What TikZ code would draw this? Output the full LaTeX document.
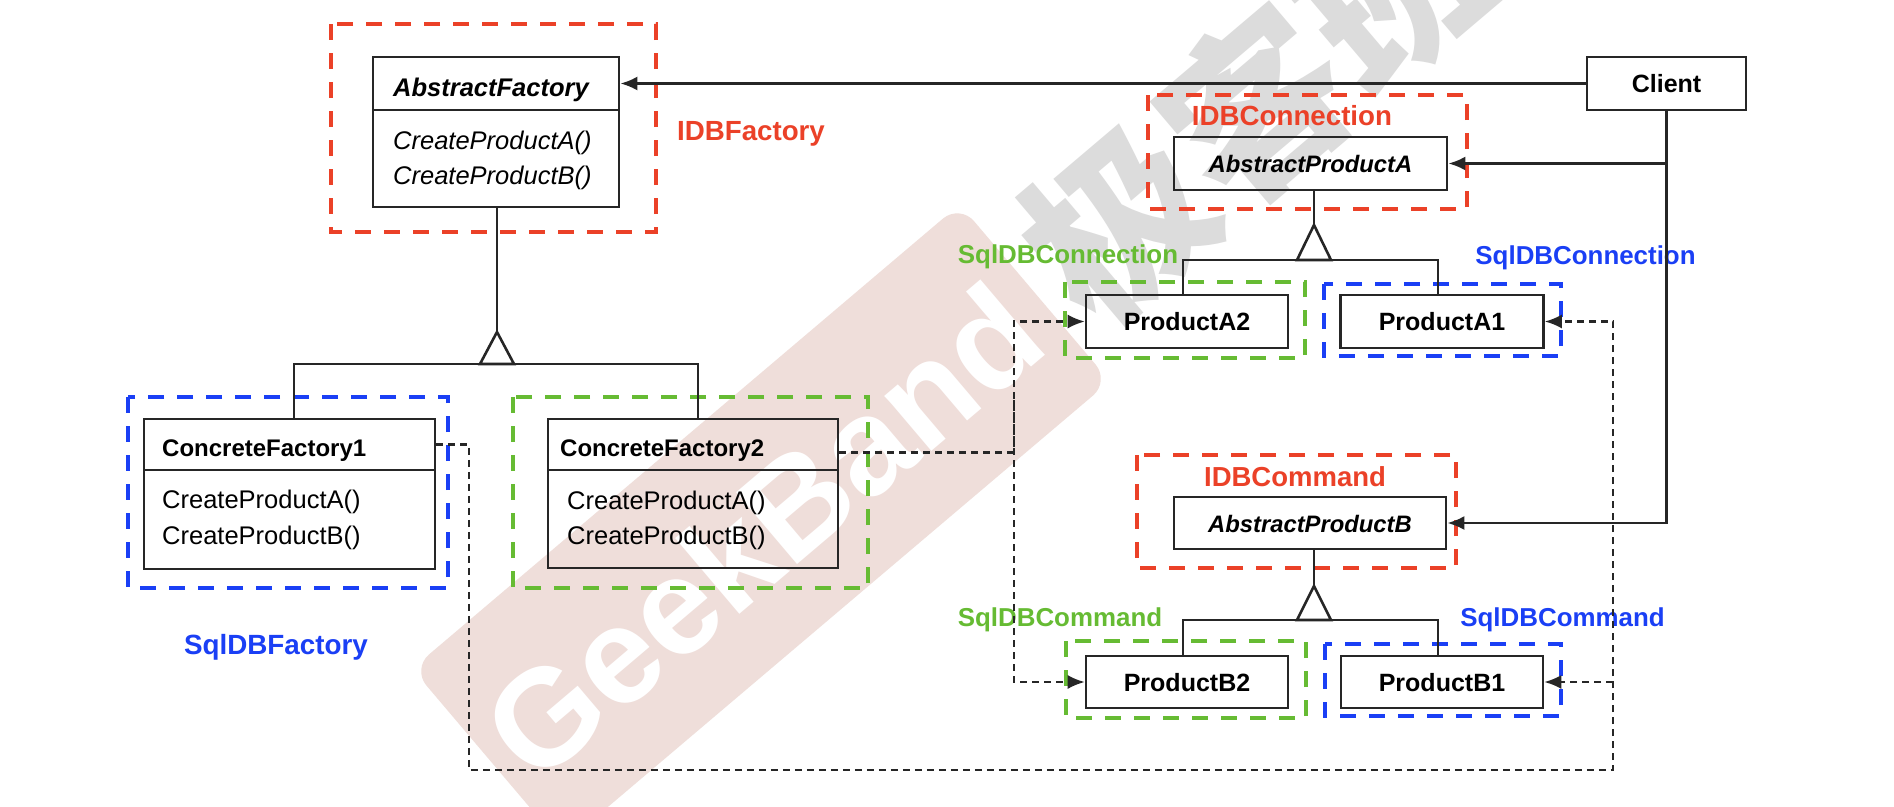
\documentclass[tikz,border=0pt]{standalone}
\usepackage{fontspec}
\setmainfont{Liberation Sans}
\newfontfamily\cjkwm{Noto Sans CJK SC}
\usetikzlibrary{arrows.meta}
\definecolor{dred}{HTML}{EB4128}
\definecolor{dblue}{HTML}{1A3FF5}
\definecolor{dgreen}{HTML}{66BB33}
\definecolor{wmpink}{HTML}{EFDEDA}
\definecolor{wmgray}{HTML}{DCDCDC}
\definecolor{ink}{HTML}{262626}
\begin{document}
\begin{tikzpicture}[x=1pt,y=-1pt,
  ln/.style={draw=ink, line width=2.6pt},
  box/.style={draw=ink, line width=2.6pt, inner sep=0pt, text height=18pt, text depth=0pt},
  bfont/.style={font=\fontsize{25}{30}\selectfont\bfseries},
  bifont/.style={font=\fontsize{23.8}{28}\selectfont\bfseries\itshape},
  txt/.style={inner sep=0pt, text height=18pt, text depth=0pt, anchor=west},
  mfont/.style={font=\fontsize{25.5}{30}\selectfont},
  mifont/.style={font=\fontsize{25.5}{30}\selectfont\itshape},
  grp/.style={line width=4.5pt, dash pattern=on 16pt off 13pt},
  lbl/.style={inner sep=0pt, text height=19.5pt, text depth=0pt},
  dep/.style={draw=ink, line width=2.2pt, dash pattern=on 7pt off 5pt},
  arr/.style={-{Latex[length=17pt,width=14pt]}},
  gen/.style={draw=ink, line width=2.6pt, fill=white, line join=miter},
]
\useasboundingbox (0,0) rectangle (1894,806);
\fill[white] (0,0) rectangle (1894,806);

% watermark
\begin{scope}
\clip (0,0) rectangle (1894,806);
\node[fill=wmpink, rotate=40.3, minimum width=718pt, minimum height=232pt, rounded corners=22pt, inner sep=0pt] (wmband) at (761,525) {};
\node[rotate=40.3, text=white, font=\fontsize{137}{140}\selectfont\bfseries, inner sep=0pt] (wmtext) at (762,531) {GeekBand};
\node[rotate=40.3, text=wmgray, font=\fontsize{180}{180}\selectfont\cjkwm\bfseries, inner sep=0pt] (wmcn) at (1255,105) {极客班};
\end{scope}

% coloured grouping boxes
\draw[grp, dred] (331,24) rectangle (656,232);
\draw[grp, dred] (1148,95) rectangle (1467,209);
\draw[grp, dred] (1137,455) rectangle (1456,568);
\draw[grp, dgreen] (1065,282) rectangle (1305,358);
\draw[grp, dblue] (1324,284) rectangle (1561,356);
\draw[grp, dgreen] (1066,641) rectangle (1306,718);
\draw[grp, dblue] (1325,644) rectangle (1561,716);
\draw[grp, dblue] (128,397) rectangle (448,588);
\draw[grp, dgreen] (513,397) rectangle (868,588);

% class boxes
\node[box, minimum width=246pt, minimum height=53pt] (afh) at (496,83.5) {};
\node[box, minimum width=246pt, minimum height=97pt] (afb) at (496,158.5) {};
\node[box, bfont, minimum width=159pt, minimum height=53pt] (client) at (1666.5,83.5) {Client};
\node[box, bifont, minimum width=273pt, minimum height=53pt] (apa) at (1310.5,163.5) {AbstractProductA};
\node[box, bifont, minimum width=272pt, minimum height=52pt] (apb) at (1310,523) {AbstractProductB};
\node[box, bfont, minimum width=202pt, minimum height=53pt] (pa2) at (1187,321.5) {ProductA2};
\node[box, bfont, minimum width=203pt, minimum height=53pt] (pa1) at (1442,321.5) {ProductA1};
\node[box, bfont, minimum width=202pt, minimum height=52pt] (pb2) at (1187,682) {ProductB2};
\node[box, bfont, minimum width=202pt, minimum height=52pt] (pb1) at (1442,682) {ProductB1};
\node[box, minimum width=291pt, minimum height=51pt] (cf1h) at (289.5,444.5) {};
\node[box, minimum width=291pt, minimum height=99pt] (cf1b) at (289.5,519.5) {};
\node[box, minimum width=290pt, minimum height=51pt] (cf2h) at (693,444.5) {};
\node[box, minimum width=290pt, minimum height=98pt] (cf2b) at (693,519) {};

% class texts
\node[txt, font=\fontsize{25.5}{30}\selectfont\bfseries\itshape] (aft) at (393,87) {AbstractFactory};
\node[txt, mifont] (afm1) at (393,140) {CreateProductA()};
\node[txt, mifont] (afm2) at (393,175) {CreateProductB()};
\node[txt, font=\fontsize{24}{28}\selectfont\bfseries] (cf1t) at (162,447) {ConcreteFactory1};
\node[txt, mfont] (cf1m1) at (162,499) {CreateProductA()};
\node[txt, mfont] (cf1m2) at (162,535.5) {CreateProductB()};
\node[txt, font=\fontsize{24}{28}\selectfont\bfseries] (cf2t) at (560,447) {ConcreteFactory2};
\node[txt, mfont] (cf2m1) at (567,500) {CreateProductA()};
\node[txt, mfont] (cf2m2) at (567,535.5) {CreateProductB()};

% labels
\node[lbl, text=dred, font=\fontsize{27.7}{30}\selectfont\bfseries] (lidbf) at (751,131) {IDBFactory};
\node[lbl, text=dred, font=\fontsize{27.7}{30}\selectfont\bfseries] (lidbc) at (1292,115.5) {IDBConnection};
\node[lbl, text=dgreen, font=\fontsize{25.9}{30}\selectfont\bfseries] (lsqc2) at (1068,254) {SqlDBConnection};
\node[lbl, text=dblue, font=\fontsize{25.9}{30}\selectfont\bfseries] (lsqc1) at (1585.5,254.5) {SqlDBConnection};
\node[lbl, text=dred, font=\fontsize{27.5}{30}\selectfont\bfseries] (lidbm) at (1295,477) {IDBCommand};
\node[lbl, text=dgreen, font=\fontsize{25.9}{30}\selectfont\bfseries] (lsqm2) at (1060,617) {SqlDBCommand};
\node[lbl, text=dblue, font=\fontsize{25.9}{30}\selectfont\bfseries] (lsqm1) at (1562.5,617) {SqlDBCommand};
\node[lbl, text=dblue, font=\fontsize{27.8}{30}\selectfont\bfseries] (lsqf) at (276,645) {SqlDBFactory};

% associations from Client
\draw[ln, arr] (client.west) -- (afh.east);
\draw[ln, arr] (client.south) |- (apb.east);
\draw[ln, arr] (client.south |- apa.east) -- (apa.east);

% generalisation: AbstractFactory
\coordinate (afT) at (497,332);
\coordinate (afBar) at (497,364);
\draw[ln] (afb.south -| afT) -- (afT);
\draw[ln] ([xshift=4.5pt]cf1h.north) |- (afBar) -| ([xshift=5pt]cf2h.north);
\draw[gen] (afT) -- ++(-17,32) -- ++(34,0) -- cycle;

% generalisation: AbstractProductA
\coordinate (apaT) at (1314,225);
\coordinate (apaBar) at (1314,260);
\draw[ln] (apaT |- apa.south) -- (apaT);
\draw[ln] ([xshift=-4pt]pa2.north) |- (apaBar) -| ([xshift=-4pt]pa1.north);
\draw[gen] (apaT) -- ++(-17,35) -- ++(34,0) -- cycle;

% generalisation: AbstractProductB
\coordinate (apbT) at (1314,586);
\coordinate (apbBar) at (1314,620);
\draw[ln] (apbT |- apb.south) -- (apbT);
\draw[ln] ([xshift=-4pt]pb2.north) |- (apbBar) -| ([xshift=-4pt]pb1.north);
\draw[gen] (apbT) -- ++(-17,34) -- ++(34,0) -- cycle;

% dependencies (creates)
\coordinate (d1a) at (469,770);
\coordinate (d1b) at (1613,770);
\draw[dep, arr] (cf1h.east) -| (d1a) -- (d1b) |- (pa1.east);
\draw[dep, arr] (d1b |- pb1.east) -- (pb1.east);
\coordinate (d2) at (1014,400);
\draw[dep, arr] ([yshift=-8pt]cf2h.east) -| (d2) |- (pa2.west);
\draw[dep, arr] (d2) |- (pb2.west);
\end{tikzpicture}
\end{document}
